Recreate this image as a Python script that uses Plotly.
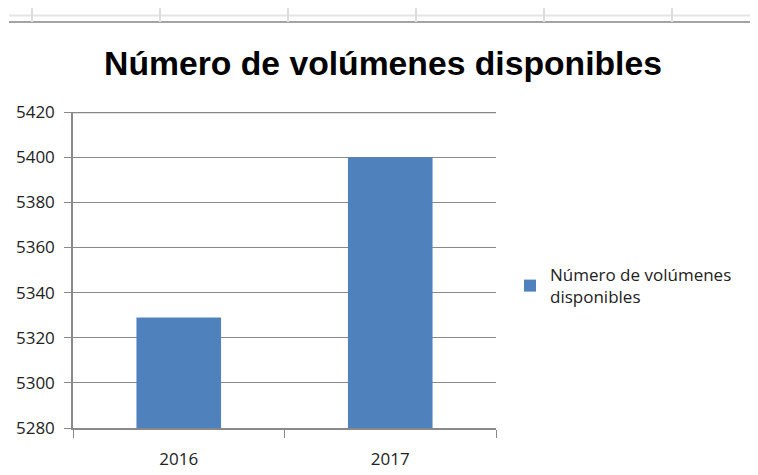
import plotly.graph_objects as go

years = ["2016", "2017"]
volumes = [5329, 5400]
series_name = "Número de volúmenes<br>disponibles"
title_text = "Número de volúmenes disponibles"
y_min, y_max, y_step = 5280, 5420, 20

AXIS_GREY = "#898989"
BAR_BLUE = "#4F81BD"

# the page body has an 8px margin, so the figure is drawn 8px in and down
PLOT_L, PLOT_T, PLOT_W, PLOT_H = 65, 104, 423, 316


def paper_x(page_px):
    return (page_px - 8 - PLOT_L) / PLOT_W


def paper_y(page_py):
    return (PLOT_T + PLOT_H + 8 - page_py) / PLOT_H


fig = go.Figure(
    go.Bar(
        x=years,
        y=volumes,
        name=series_name,
        marker=dict(color=BAR_BLUE, line=dict(width=0)),
        showlegend=True,
    )
)

# faint spreadsheet grid visible above the chart
sheet_shapes = [
    dict(type="line", xref="paper", yref="paper", x0=paper_x(9), x1=paper_x(770),
         y0=paper_y(15.5), y1=paper_y(15.5), line=dict(color="#e4e4e4", width=2)),
    dict(type="line", xref="paper", yref="paper", x0=paper_x(9), x1=paper_x(770),
         y0=paper_y(22), y1=paper_y(22), line=dict(color="#a3a3a3", width=2)),
]
for col in (32, 160, 288, 416, 544, 672):
    sheet_shapes.append(
        dict(type="line", xref="paper", yref="paper", x0=paper_x(col), x1=paper_x(col),
             y0=paper_y(22), y1=paper_y(7), line=dict(color="#dedede", width=2))
    )
# plotly skips the gridline on the top edge, so draw it at the axis maximum
# (half of it is clipped by the plot area, hence the wider stroke)
sheet_shapes.append(
    dict(type="line", xref="paper", yref="y", x0=0, x1=1, y0=y_max, y1=y_max,
         line=dict(color=AXIS_GREY, width=2.4), layer="below")
)

fig.update_layout(
    width=750,
    height=467,
    margin=dict(l=PLOT_L, r=750 - PLOT_L - PLOT_W, t=PLOT_T, b=467 - PLOT_T - PLOT_H, autoexpand=False),
    paper_bgcolor="white",
    plot_bgcolor="white",
    font=dict(family="Open Sans, Arial, sans-serif", size=17, color="#222222"),
    title=dict(
        text=title_text,
        x=0.5,
        xanchor="center",
        y=1 - 55 / 467,
        yanchor="middle",
        font=dict(family="Liberation Sans, Arial, sans-serif", size=33.7, color="black", weight="bold"),
    ),
    bargap=0.6,
    xaxis=dict(
        type="category",
        showline=True,
        linecolor=AXIS_GREY,
        linewidth=1.5,
        ticks="outside",
        tickson="boundaries",
        ticklen=8,
        tickcolor=AXIS_GREY,
        showgrid=False,
        tickfont=dict(size=17),
        ticklabelstandoff=15,
    ),
    yaxis=dict(
        range=[y_min, y_max],
        tick0=y_min,
        dtick=y_step,
        showline=True,
        linecolor=AXIS_GREY,
        linewidth=1.5,
        ticks="outside",
        ticklen=7,
        tickcolor=AXIS_GREY,
        showgrid=True,
        gridcolor=AXIS_GREY,
        gridwidth=1.2,
        zeroline=False,
        tickfont=dict(size=17),
        ticklabelstandoff=6,
    ),
    legend=dict(
        x=paper_x(510),
        xanchor="left",
        y=paper_y(286),
        yanchor="middle",
        font=dict(size=17),
        bgcolor="rgba(0,0,0,0)",
    ),
    shapes=sheet_shapes,
)

fig.write_html("out.html")
